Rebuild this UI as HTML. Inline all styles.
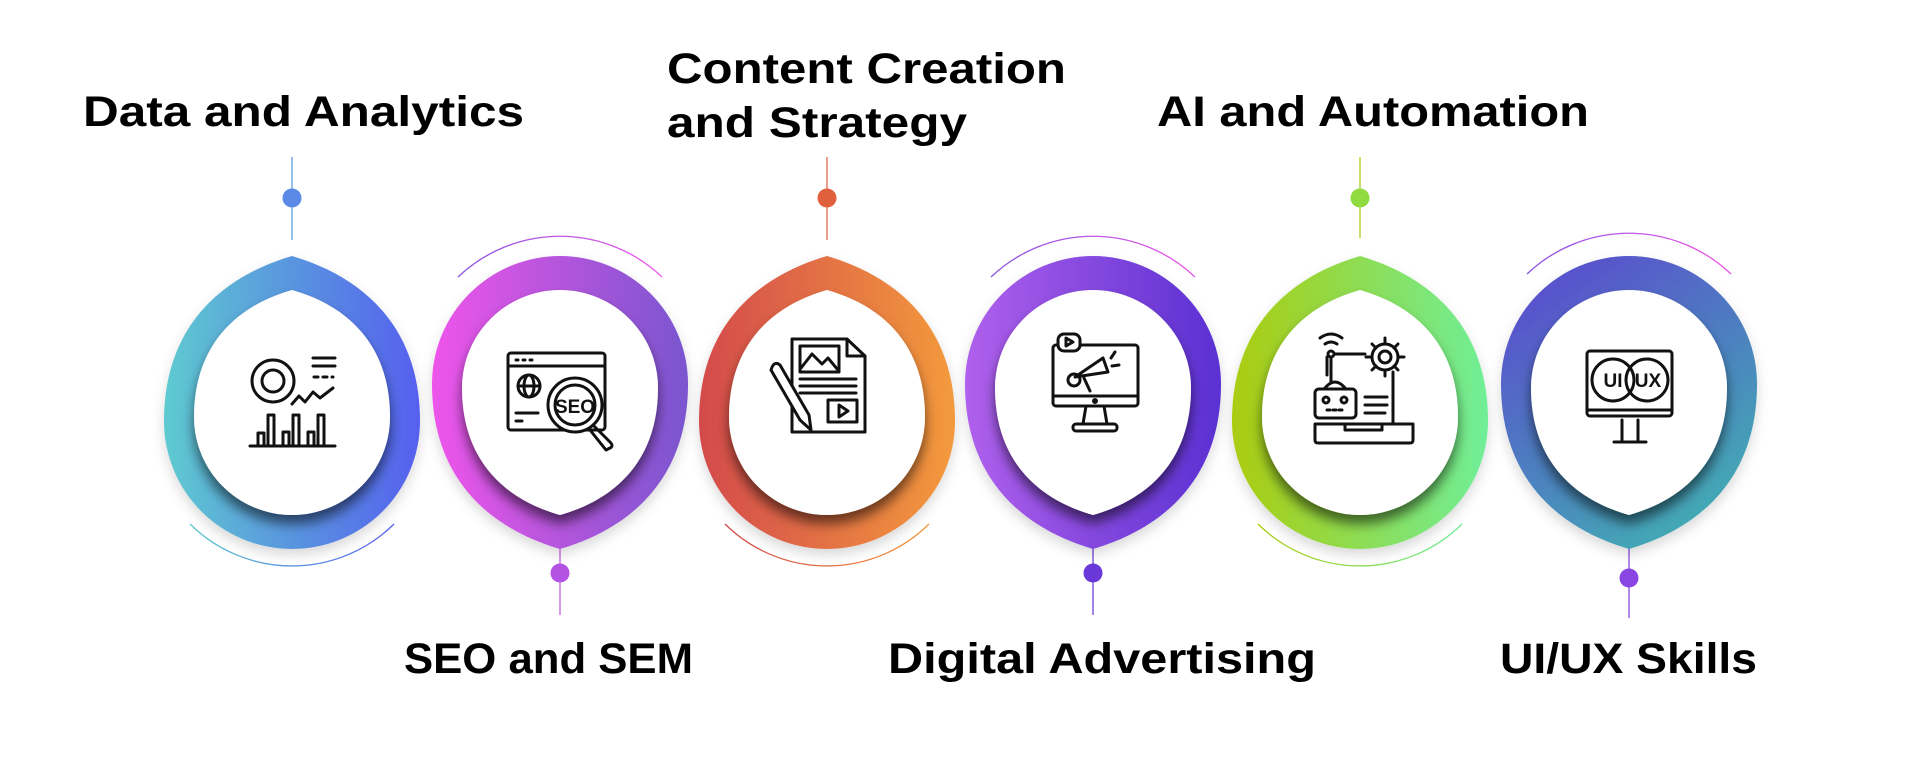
<!DOCTYPE html>
<html><head><meta charset="utf-8"><style>html,body{margin:0;padding:0;background:#fff}svg{display:block}</style></head>
<body>
<svg width="1920" height="776" viewBox="0 0 1920 776" xmlns="http://www.w3.org/2000/svg">
<defs>
<path id="outer" d="M0,-165 C78,-142 128,-88 128,0 A128,128 0 0 1 -128,0 C-128,-88 -78,-142 0,-165Z"/>
<path id="inner" d="M0,-127 C60,-110 98,-68 98,0 A98,98 0 0 1 -98,0 C-98,-68 -60,-110 0,-127Z"/>
<filter id="sh" x="-30%" y="-30%" width="160%" height="170%"><feDropShadow dx="0" dy="9" stdDeviation="6" flood-color="#000" flood-opacity="0.55"/></filter>
<filter id="sh2" x="-30%" y="-30%" width="160%" height="170%"><feDropShadow dx="0" dy="6" stdDeviation="6" flood-color="#000" flood-opacity="0.15"/></filter>
<linearGradient id="g1" x1="0" y1="0" x2="1" y2="0"><stop offset="0" stop-color="#5ecad0"/><stop offset="1" stop-color="#5560ee"/></linearGradient>
<linearGradient id="g2" x1="0" y1="0" x2="1" y2="0"><stop offset="0" stop-color="#ee55ea"/><stop offset="1" stop-color="#7a55cf"/></linearGradient>
<linearGradient id="g3" x1="0" y1="0" x2="1" y2="0"><stop offset="0" stop-color="#d44a4c"/><stop offset="1" stop-color="#f39a3c"/></linearGradient>
<linearGradient id="g4" x1="0" y1="0" x2="1" y2="0"><stop offset="0" stop-color="#b060ec"/><stop offset="1" stop-color="#5a30d2"/></linearGradient>
<linearGradient id="g5" x1="0" y1="0" x2="1" y2="0"><stop offset="0" stop-color="#abcc10"/><stop offset="1" stop-color="#70ee98"/></linearGradient>
<linearGradient id="g6" x1="0.2" y1="1" x2="0.8" y2="0"><stop offset="0" stop-color="#5a4cce"/><stop offset="1" stop-color="#40b2b2"/></linearGradient>
<linearGradient id="a1" x1="0" y1="0" x2="1" y2="0"><stop offset="0" stop-color="#5ecad0"/><stop offset="1" stop-color="#5560ee"/></linearGradient>
<linearGradient id="a2" x1="0" y1="0" x2="1" y2="0"><stop offset="0" stop-color="#8a55e0"/><stop offset="1" stop-color="#ee55ea"/></linearGradient>
<linearGradient id="a3" x1="0" y1="0" x2="1" y2="0"><stop offset="0" stop-color="#d44a4c"/><stop offset="1" stop-color="#f39a3c"/></linearGradient>
<linearGradient id="a5" x1="0" y1="0" x2="1" y2="0"><stop offset="0" stop-color="#abcc10"/><stop offset="1" stop-color="#70ee98"/></linearGradient>
</defs>

<g stroke-width="1.3">
<line x1="292" y1="157" x2="292" y2="240" stroke="#5a9ee0"/><circle cx="292" cy="198" r="9.5" fill="#5a8ae6"/>
<line x1="827" y1="157" x2="827" y2="240" stroke="#e06a4a"/><circle cx="827" cy="198" r="9.5" fill="#e0603e"/>
<line x1="1360" y1="157" x2="1360" y2="238" stroke="#a6cc20"/><circle cx="1360" cy="198" r="9.5" fill="#90dc40"/>
<line x1="560" y1="535" x2="560" y2="615" stroke="#c060e0"/><circle cx="560" cy="573" r="9.5" fill="#b452e4"/>
<line x1="1093" y1="535" x2="1093" y2="615" stroke="#7040d8"/><circle cx="1093" cy="573" r="9.5" fill="#6a38d8"/>
<line x1="1629" y1="540" x2="1629" y2="618" stroke="#8a4ae0"/><circle cx="1629" cy="578" r="9.5" fill="#8a46e2"/>
</g>

<g fill="none" stroke-width="1.3">
<path d="M190,524 A145,145 0 0 0 394,524" stroke="url(#a1)"/>
<path d="M458,277 A148,148 0 0 1 662,277" stroke="url(#a2)"/>
<path d="M725,524 A145,145 0 0 0 929,524" stroke="url(#a3)"/>
<path d="M991,277 A148,148 0 0 1 1195,277" stroke="url(#a2)"/>
<path d="M1258,524 A145,145 0 0 0 1462,524" stroke="url(#a5)"/>
<path d="M1527,274 A148,148 0 0 1 1731,274" stroke="url(#a2)"/>
</g>

<g filter="url(#sh2)">
<use href="#outer" transform="translate(292,421)" fill="url(#g1)"/>
<use href="#outer" transform="translate(560,384) scale(1,-1)" fill="url(#g2)"/>
<use href="#outer" transform="translate(827,421)" fill="url(#g3)"/>
<use href="#outer" transform="translate(1093,384) scale(1,-1)" fill="url(#g4)"/>
<use href="#outer" transform="translate(1360,421)" fill="url(#g5)"/>
<use href="#outer" transform="translate(1629,384) scale(1,-1)" fill="url(#g6)"/>
</g>
<g filter="url(#sh)" fill="#fff">
<use href="#inner" transform="translate(292,417)"/>
<use href="#inner" transform="translate(560,388) scale(1,-1)"/>
<use href="#inner" transform="translate(827,417)"/>
<use href="#inner" transform="translate(1093,388) scale(1,-1)"/>
<use href="#inner" transform="translate(1360,417)"/>
<use href="#inner" transform="translate(1629,388) scale(1,-1)"/>
</g>

<g fill="none" stroke="#111" stroke-width="3" stroke-linecap="round" stroke-linejoin="round">
<circle cx="273" cy="381" r="21"/><circle cx="273" cy="381" r="11"/>
<line x1="313" y1="358" x2="335" y2="358"/><line x1="313" y1="366" x2="335" y2="366"/><line x1="314" y1="377" x2="333" y2="377" stroke-dasharray="4 5"/>
<polyline points="292,404 299,396 305,402 313,392 320,398 333,388"/>
<line x1="250" y1="446" x2="335" y2="446"/>
<path d="M258,446 V433 H264 V446 M268,446 V415 H274 V446 M283,446 V432 H289 V446 M293,446 V415 H299 V446 M308,446 V432 H314 V446 M318,446 V415 H324 V446"/>
<rect x="508" y="353" width="97" height="77" rx="3"/>
<line x1="508" y1="366" x2="605" y2="366"/>
<line x1="516" y1="360" x2="518" y2="360"/><line x1="523" y1="360" x2="525" y2="360"/><line x1="530" y1="360" x2="532" y2="360"/>
<circle cx="529" cy="386" r="11"/><line x1="518" y1="386" x2="540" y2="386"/><ellipse cx="529" cy="386" rx="5" ry="11"/>
<line x1="516" y1="413" x2="538" y2="413"/><line x1="516" y1="421" x2="522" y2="421"/>
<circle cx="575" cy="405" r="27" fill="#fff"/><circle cx="575" cy="405" r="20"/>
<path d="M593,425 L610,442 Q614,446 610,448 L606,450 L590,430"/>
<text x="575" y="413" font-family="Liberation Sans, sans-serif" font-weight="bold" font-size="19" fill="#111" stroke="none" text-anchor="middle">SEO</text>
<path d="M792,339 H847 L865,356 V432 H792 Z"/><path d="M847,339 V356 H865"/>
<rect x="800" y="346" width="39" height="26"/><polyline points="801,368 812,354 822,364 828,358 838,370"/>
<line x1="800" y1="379" x2="856" y2="379"/><line x1="800" y1="386" x2="856" y2="386"/><line x1="800" y1="393" x2="856" y2="393"/>
<rect x="828" y="400" width="29" height="22"/><path d="M839,405 L848,411 L839,417Z"/>
<path d="M771,370 L800,420 L811,430 L809,415 L780,365 Q774,360 771,370Z" fill="#fff"/>
<rect x="1053" y="345" width="85" height="61" rx="3"/><line x1="1053" y1="396" x2="1138" y2="396"/>
<circle cx="1095" cy="401" r="1.5" fill="#111"/>
<path d="M1086,406 L1083,424 H1107 L1104,406"/><rect x="1073" y="424" width="44" height="7" rx="3"/>
<rect x="1058" y="334" width="22" height="17" rx="6" fill="#fff"/><path d="M1066,338 L1073,342 L1066,346Z"/>
<path d="M1075,377 L1103,358 L1108,372 Z" fill="#fff"/><circle cx="1074" cy="380" r="6"/><line x1="1084" y1="378" x2="1090" y2="391"/>
<line x1="1111" y1="358" x2="1115" y2="352"/><line x1="1112" y1="366" x2="1119" y2="365"/>
<path d="M1320,338 Q1331,330 1342,338"/><path d="M1325,344 Q1331,340 1337,344"/>
<circle cx="1331" cy="354" r="3"/><line x1="1334" y1="354" x2="1365" y2="354"/>
<path d="M1327,357 V375"/><line x1="1331" y1="357" x2="1331" y2="383"/>
<circle cx="1385" cy="357" r="13"/><circle cx="1385" cy="357" r="6"/>
<path d="M1385,338 V344 M1385,370 V376 M1366,357 H1372 M1398,357 H1404 M1372,344 L1376,348 M1394,366 L1398,370 M1398,344 L1394,348 M1372,370 L1376,366"/>
<path d="M1393,372 V423"/>
<rect x="1315" y="389" width="41" height="29" rx="4" fill="#fff"/>
<circle cx="1326" cy="400" r="3"/><circle cx="1344" cy="400" r="3"/><line x1="1327" y1="410" x2="1343" y2="410" stroke-dasharray="3 3"/>
<path d="M1325,388 Q1335,376 1345,388"/>
<line x1="1365" y1="397" x2="1387" y2="397"/><line x1="1365" y1="405" x2="1387" y2="405"/><line x1="1365" y1="413" x2="1385" y2="413"/>
<path d="M1315,424 H1413 V440 Q1413,443 1410,443 H1318 Q1315,443 1315,440 Z"/><path d="M1345,424 V430 H1382 V424"/>
<rect x="1587" y="351" width="85" height="65" rx="3"/><line x1="1587" y1="410" x2="1672" y2="410"/>
<circle cx="1613" cy="380" r="21"/><circle cx="1647" cy="380" r="21"/>
<path d="M1622,420 V442 M1638,420 V442 M1614,442 H1646"/>
<text x="1613" y="387" font-family="Liberation Sans, sans-serif" font-weight="bold" font-size="19" fill="#111" stroke="none" text-anchor="middle">UI</text>
<text x="1648" y="387" font-family="Liberation Sans, sans-serif" font-weight="bold" font-size="19" fill="#111" stroke="none" text-anchor="middle">UX</text>
</g>

<g font-family="Liberation Sans, sans-serif" font-weight="bold" font-size="43" fill="#000">
<text x="83" y="126" textLength="441" lengthAdjust="spacingAndGlyphs">Data and Analytics</text>
<text x="667" y="83" textLength="399" lengthAdjust="spacingAndGlyphs">Content Creation</text>
<text x="667" y="137" textLength="300" lengthAdjust="spacingAndGlyphs">and Strategy</text>
<text x="1157" y="126" textLength="432" lengthAdjust="spacingAndGlyphs">AI and Automation</text>
<text x="404" y="673" textLength="289" lengthAdjust="spacingAndGlyphs">SEO and SEM</text>
<text x="888" y="673" textLength="428" lengthAdjust="spacingAndGlyphs">Digital Advertising</text>
<text x="1500" y="673" textLength="257" lengthAdjust="spacingAndGlyphs">UI/UX Skills</text>
</g>
</svg>
</body></html>
